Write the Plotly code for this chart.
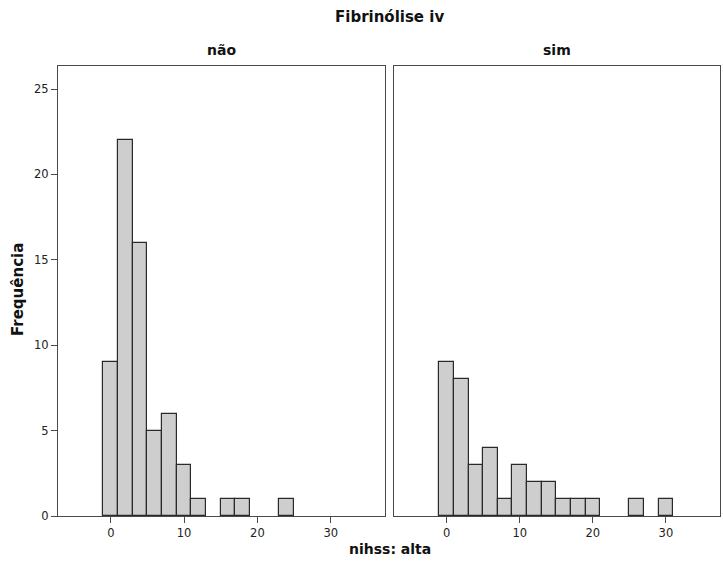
import plotly.graph_objects as go

# Data
bin_centers = [0, 2, 4, 6, 8, 10, 12, 14, 16, 18, 20, 22, 24, 26, 28, 30]
counts_nao = [9, 22, 16, 5, 6, 3, 1, 0, 1, 1, 0, 0, 1, 0, 0, 0]
counts_sim = [9, 8, 3, 4, 1, 3, 2, 2, 1, 1, 1, 0, 0, 1, 0, 1]
panel_titles = ["não", "sim"]
x_ticks = [0, 10, 20, 30]
y_ticks = [0, 5, 10, 15, 20, 25]

W, H = 723, 569
def px_x(v): return v / W
def px_y(v): return 1 - v / H

fig = go.Figure()
bar_style = dict(width=2, marker=dict(color="#cecece", line=dict(color="#2a2a2a", width=1.2)),
                 showlegend=False, hoverinfo="x+y")

def keep(xs, ys):
    pts = [(x, y) for x, y in zip(xs, ys) if y > 0]
    return [p[0] for p in pts], [p[1] for p in pts]

xn, yn = keep(bin_centers, counts_nao)
xs, ys = keep(bin_centers, counts_sim)
fig.add_trace(go.Bar(x=xn, y=yn, xaxis="x", yaxis="y", **bar_style))
fig.add_trace(go.Bar(x=xs, y=ys, xaxis="x2", yaxis="y2", **bar_style))

font_fam = "DejaVu Sans, Verdana, sans-serif"
axis_common = dict(showgrid=False, zeroline=False, showline=True, linecolor="#4a4a4a",
                   linewidth=1, mirror=True, automargin=False)
xrange = [-7.2, 37.4]
yrange = [0, 26.35]

fig.update_layout(
    width=W, height=H, autosize=False,
    margin=dict(l=0, r=0, t=0, b=0, pad=0),
    paper_bgcolor="white", plot_bgcolor="white",
    bargap=0,
    font=dict(family=font_fam, size=11.5, color="#222222"),
    xaxis=dict(domain=[px_x(58), px_x(385)], range=xrange, tickvals=x_ticks,
               ticks="outside", ticklen=6, tickcolor="#4a4a4a", anchor="y", **axis_common),
    yaxis=dict(domain=[px_y(516), px_y(66)], range=yrange, tickvals=y_ticks,
               ticks="outside", ticklen=6, tickcolor="#4a4a4a", anchor="x", **axis_common),
    xaxis2=dict(domain=[px_x(394), px_x(720)], range=xrange, tickvals=x_ticks,
                ticks="outside", ticklen=6, tickcolor="#4a4a4a", anchor="y2", **axis_common),
    yaxis2=dict(domain=[px_y(516), px_y(66)], range=yrange, tickvals=y_ticks,
                showticklabels=False, ticks="", anchor="x2", **axis_common),
)

def tf(size):
    return dict(family=font_fam, size=size, color="#111111")

ann = [
    dict(text="<b>Fibrinólise iv</b>", x=px_x(389), y=px_y(17), font=tf(15)),
    dict(text="<b>%s</b>" % panel_titles[0], x=px_x(221), y=px_y(50), font=tf(14)),
    dict(text="<b>%s</b>" % panel_titles[1], x=px_x(557), y=px_y(50), font=tf(14)),
    dict(text="<b>nihss: alta</b>", x=px_x(390), y=px_y(549), font=tf(14)),
    dict(text="<b>Frequência</b>", x=px_x(18), y=px_y(290), textangle=-90, font=tf(15)),
]
for a in ann:
    fig.add_annotation(xref="paper", yref="paper", showarrow=False,
                       xanchor="center", yanchor="middle", **a)

fig.write_html("out.html")
